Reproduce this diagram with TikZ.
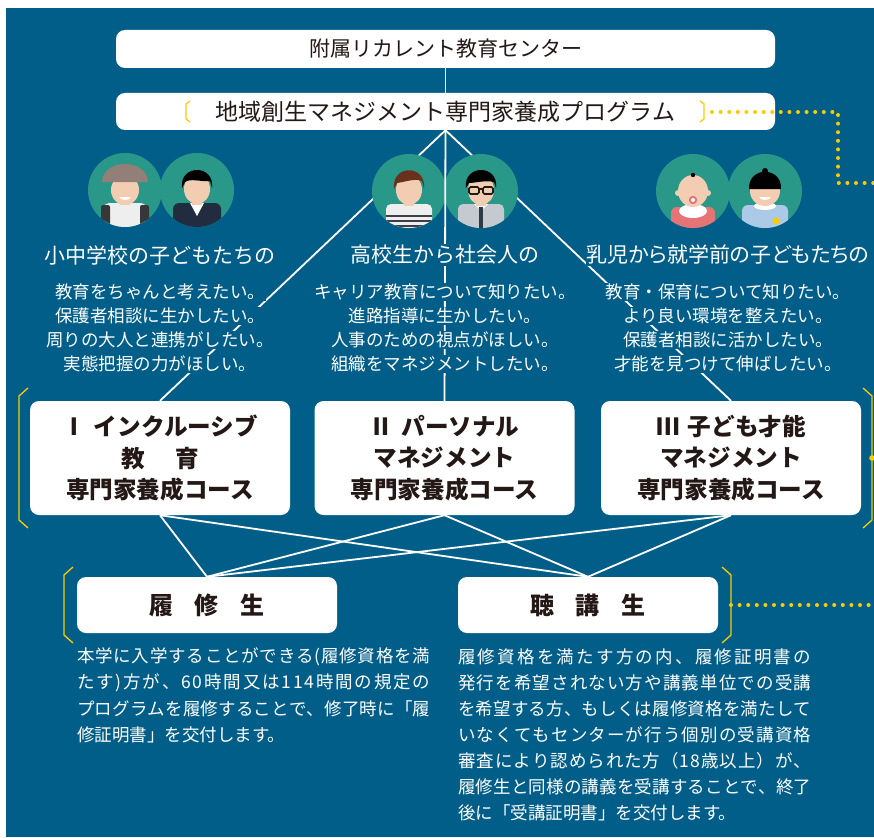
\documentclass[tikz,border=0pt]{standalone}
\usepackage{fontspec}
\setmainfont{Noto Sans CJK JP}
% justified description lines: stretchable glue between every character
\makeatletter
\def\spreadrun#1#2\spreadend{#1\ifx\relax#2\relax\else\hskip0pt plus 1fil\relax\spreadrun#2\spreadend\fi}
\newcommand\fullline[1]{\hbox to 353pt{\spreadrun#1\spreadend}}
\makeatother
\definecolor{bg}{RGB}{0,94,137}
\definecolor{ink}{RGB}{35,24,21}
\definecolor{gold}{RGB}{250,204,0}
\definecolor{teal}{RGB}{42,152,137}
\definecolor{skin}{RGB}{243,205,178}
\definecolor{hatc}{RGB}{146,128,120}
\definecolor{strapc}{RGB}{55,55,58}
\definecolor{shirtw}{RGB}{238,238,238}
\definecolor{navy}{RGB}{33,44,64}
\definecolor{brownh}{RGB}{105,48,28}
\definecolor{stripe}{RGB}{62,62,74}
\definecolor{greys}{RGB}{196,202,208}
\definecolor{tiec}{RGB}{48,58,70}
\definecolor{pinkc}{RGB}{228,116,118}
\definecolor{bluec}{RGB}{172,202,232}
\tikzset{
  panel/.style={fill=white, rounded corners=9pt, draw=none},
  link/.style={draw=white, line width=1.8pt},
  dots/.style={draw=gold, line width=4pt, line cap=round, dash pattern=on 0pt off 8.6pt},
  brace/.style={draw=gold, line width=1.3pt},
  head/.style={text=white, fill=bg, inner sep=0.8pt, font=\fontsize{21}{24}\selectfont},
  wish/.style={text=white, fill=bg, inner sep=0.6pt, font=\fontsize{17.5}{20}\selectfont},
  note/.style={text=white, anchor=west, inner sep=0pt, font=\fontsize{17.5}{22}\selectfont},
  course/.style={panel, minimum width=260pt, minimum height=114pt, align=center, text=ink,
                 font=\bfseries\fontsize{23.6}{31.5}\selectfont},
  member/.style={panel, minimum width=260pt, minimum height=56pt, text=ink,
                 font=\bfseries\fontsize{24}{28}\selectfont},
}
\begin{document}
\begin{tikzpicture}[x=1pt,y=-1pt]
\useasboundingbox (0,0) rectangle (874,837);
\fill[bg] (6,8) rectangle (874,837);

% header boxes
\node[panel, minimum width=659pt, minimum height=38pt, text=ink,
      font=\fontsize{21}{24}\selectfont] (center) at (445.5,49) {附属リカレント教育センター};
\node[panel, minimum width=659pt, minimum height=37pt, text=ink,
      font=\fontsize{23}{26}\selectfont] (prog) at (445.5,111.5) {地域創生マネジメント専門家養成プログラム};
\draw[brace] (190,101) -- (186,104) -- (186,119) -- (190,122);
\draw[brace] (700,101) -- (704,104) -- (704,119) -- (700,122);
\draw[link] (center) -- (prog);

% course boxes
\node[course] (c1) at (160,458) {Ⅰ\hspace{0.35em}インクルーシブ\\教\hspace{1.3em}育\\専門家養成コース};
\node[course] (c2) at (444.5,458) {Ⅱ\hspace{0.35em}パーソナル\\マネジメント\\専門家養成コース};
\node[course] (c3) at (731,458) {Ⅲ\hspace{0.35em}子ども才能\\マネジメント\\専門家養成コース};

% student type boxes
\node[member] (r1) at (207,605) {履\hspace{0.9em}修\hspace{0.9em}生};
\node[member] (r2) at (588,605) {聴\hspace{0.9em}講\hspace{0.9em}生};

% connectors
\draw[link] (prog.south) -- (c1.north);
\draw[link] (prog.south) -- (c3.north);
\foreach \c in {c1,c2,c3}{
  \draw[link] (\c.south) -- (r1.north);
  \draw[link] (\c.south) -- (r2.north);
}

% yellow brackets and dotted leaders
\draw[brace] (28,388) -- (19,396) -- (19,520) -- (28,528);
\draw[brace] (863,388) -- (872,396) -- (872,520) -- (863,528);
\fill[gold] (872,458) circle (2.8);
\draw[brace] (73,567) -- (64,575) -- (64,635) -- (73,643);
\draw[brace] (722,567) -- (731,575) -- (731,635) -- (722,643);
\coordinate (d0) at (712,112);
\coordinate (d1) at (838,112);
\coordinate (d2) at (838,183);
\coordinate (d3) at (876,183);
\draw[dots] (d0) -- (d1) -- (d2) -- (d3);
\coordinate (e0) at (731,605);
\coordinate (e1) at (876,605);
\draw[dots] (e0) -- (e1);

% avatars: boy with hat and backpack
\begin{scope}[shift={(125,190)}]
  \fill[teal] (0,0) circle (37);
  \begin{scope}
    \clip (0,0) circle (37);
    \fill[shirtw, rounded corners=5pt] (-21,13) rectangle (21,48);
    \fill[strapc, rounded corners=2pt] (-24,15) rectangle (-15,42);
    \fill[strapc, rounded corners=2pt] (15,15) rectangle (24,42);
    \fill[skin] (-5,6) rectangle (5,15);
    \fill[skin] (0,0) ellipse (14 and 15);
    \fill[white] (-6,7) -- (6,7) .. controls (4,11) and (-4,11) .. (-6,7) -- cycle;
    \fill[hatc] (-23,-8) .. controls (-22,-32) and (22,-32) .. (23,-8) -- cycle;
  \end{scope}
\end{scope}
% boy in navy jacket
\begin{scope}[shift={(197,190)}]
  \fill[teal] (0,0) circle (37);
  \begin{scope}
    \clip (0,0) circle (37);
    \fill[navy, rounded corners=6pt] (-24,13) rectangle (24,48);
    \fill[white] (-7,13) -- (7,13) -- (0,26) -- cycle;
    \fill[skin] (-5,6) rectangle (5,15);
    \fill[skin] (0,-1) ellipse (13 and 15);
    \fill[black] (-15,-2) .. controls (-18,-26) and (18,-26) .. (15,-2)
      -- (13,-9) .. controls (4,-8) and (-6,-12) .. (-12,-8) -- cycle;
  \end{scope}
\end{scope}
% young man in striped shirt
\begin{scope}[shift={(409,191)}]
  \fill[teal] (0,0) circle (37);
  \begin{scope}
    \clip (0,0) circle (37);
    \fill[shirtw, rounded corners=5pt] (-23,13) rectangle (23,48);
    \foreach \s in {24,29,34,39}{\fill[stripe] (-23,\s) rectangle (23,\s+2.4);}
    \fill[skin] (-5,6) rectangle (5,15);
    \fill[skin] (0,-1) ellipse (13 and 15);
    \fill[brownh] (-15,-2) .. controls (-18,-27) and (18,-27) .. (15,-2)
      -- (13,-10) .. controls (6,-13) and (-4,-9) .. (-12,-8) -- cycle;
  \end{scope}
\end{scope}
% office worker with glasses and tie
\begin{scope}[shift={(481,191)}]
  \fill[teal] (0,0) circle (37);
  \begin{scope}
    \clip (0,0) circle (37);
    \fill[greys, rounded corners=5pt] (-23,13) rectangle (23,48);
    \fill[white] (-7,13) -- (7,13) -- (0,20) -- cycle;
    \fill[tiec] (-2,16) rectangle (2,48);
    \fill[skin] (-5,6) rectangle (5,15);
    \fill[skin] (0,-1) ellipse (13 and 15);
    \fill[black] (-15,-3) .. controls (-18,-27) and (18,-27) .. (15,-3)
      -- (13,-9) .. controls (4,-11) and (-6,-8) .. (-12,-8) -- cycle;
    \draw[ink, line width=1.7pt, rounded corners=1.5pt] (-12,-4) rectangle (-2,3);
    \draw[ink, line width=1.7pt, rounded corners=1.5pt] (2,-4) rectangle (12,3);
    \draw[ink, line width=1.2pt] (-2,-2) -- (2,-2);
  \end{scope}
\end{scope}
% baby with pacifier
\begin{scope}[shift={(693,191)}]
  \fill[teal] (0,0) circle (37);
  \begin{scope}
    \clip (0,0) circle (37);
    \fill[pinkc, rounded corners=6pt] (-22,16) rectangle (22,48);
    \fill[white] (0,20) ellipse (14 and 7);
    \fill[skin] (0,0) ellipse (15 and 16);
    \fill[skin] (-15,2) circle (3);
    \fill[skin] (15,2) circle (3);
    \fill[pinkc] (0,9) circle (4.2);
    \fill[white] (0,9) circle (2);
    \fill[black] (0,-16) circle (2.2);
  \end{scope}
\end{scope}
% child in blue smock
\begin{scope}[shift={(765,191)}]
  \fill[teal] (0,0) circle (37);
  \begin{scope}
    \clip (0,0) circle (37);
    \fill[bluec, rounded corners=6pt] (-23,14) rectangle (23,48);
    \fill[white] (0,15) ellipse (11 and 4);
    \fill[gold] (11,30) circle (3.5);
    \fill[skin] (0,0) ellipse (15 and 15);
    \fill[white] (-6,6) -- (6,6) .. controls (4,10) and (-4,10) .. (-6,6) -- cycle;
    \fill[black] (-16,-2) .. controls (-17,-25) and (17,-25) .. (16,-2) -- cycle;
    \fill[black] (0,-20) circle (3);
  \end{scope}
\end{scope}

% vertical link to the middle course
\draw[link] (prog.south) -- (c2.north);

% target groups
\node[head] (h1) at (160,255) {小中学校の子どもたちの};
\node[head] (h2) at (445,255) {高校生から社会人の};
\node[head] (h3) at (728,255) {\addfontfeature{RawFeature=+palt}乳児から就学前の子どもたちの};

\node[wish] (w11) at (160,292) {教育をちゃんと考えたい。};
\node[wish] (w12) at (160,316) {保護者相談に生かしたい。};
\node[wish] (w13) at (160,340) {周りの大人と連携がしたい。};
\node[wish] (w14) at (160,364) {実態把握の力がほしい。};

\node[wish] (w21) at (445,292) {キャリア教育について知りたい。};
\node[wish] (w22) at (445,316) {進路指導に生かしたい。};
\node[wish] (w23) at (445,340) {人事のための視点がほしい。};
\node[wish] (w24) at (445,364) {組織をマネジメントしたい。};

\node[wish] (w31) at (728,292) {教育・保育について知りたい。};
\node[wish] (w32) at (728,316) {より良い環境を整えたい。};
\node[wish] (w33) at (728,340) {保護者相談に活かしたい。};
\node[wish] (w34) at (728,364) {才能を見つけて伸ばしたい。};

% descriptions
\node[note] (n11) at (77,657) {\fullline{本学に入学することができる(履修資格を満}};
\node[note] (n12) at (77,683) {\fullline{たす)方が、60時間又は114時間の規定の}};
\node[note] (n13) at (77,709) {\fullline{プログラムを履修することで、修了時に「履}};
\node[note] (n14) at (77,735) {修証明書」を交付します。};

\node[note] (n21) at (458,657) {\fullline{履修資格を満たす方の内、履修証明書の}};
\node[note] (n22) at (458,683) {\fullline{発行を希望されない方や講義単位での受講}};
\node[note] (n23) at (458,709) {\fullline{を希望する方、もしくは履修資格を満たして}};
\node[note] (n24) at (458,735) {\fullline{いなくてもセンターが行う個別の受講資格}};
\node[note] (n25) at (458,761) {\fullline{審査により認められた方（18歳以上）が、}};
\node[note] (n26) at (458,787) {\fullline{履修生と同様の講義を受講することで、終了}};
\node[note] (n27) at (458,813) {後に「受講証明書」を交付します。};
\end{tikzpicture}
\end{document}
